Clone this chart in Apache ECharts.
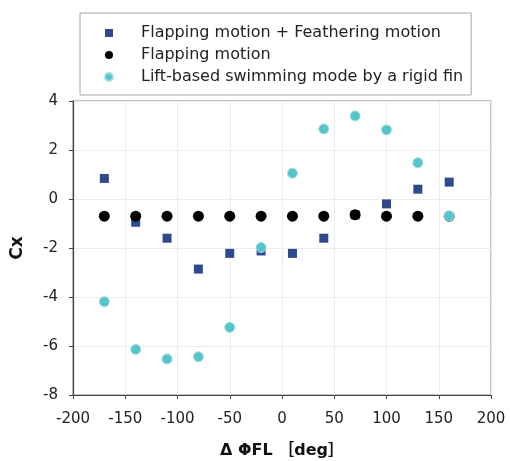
<!DOCTYPE html>
<html>
<head>
<meta charset="utf-8">
<script src="https://cdn.jsdelivr.net/npm/echarts@6/dist/echarts.min.js"></script>
<style>
  html, body { margin: 0; padding: 0; background: #fff; }
  #chart { width: 510px; height: 461px; }
</style>
</head>
<body>
<div id="chart"></div>
<script>
// Phase difference between flapping and feathering (deg)
const deltaPhi = [-170, -140, -110, -80, -50, -20, 10, 40, 70, 100, 130, 160];

// Thrust coefficient Cx for each motion pattern
const cxFlapFeather = [0.84, -0.95, -1.6, -2.86, -2.22, -2.12, -2.22, -1.6, -0.65, -0.2, 0.4, 0.69];
const cxFlap = [-0.7, -0.7, -0.7, -0.7, -0.7, -0.7, -0.7, -0.7, -0.64, -0.7, -0.7, -0.7];
const cxRigid = [-4.19, -6.14, -6.53, -6.44, -5.24, -1.98, 1.05, 2.86, 3.39, 2.82, 1.48, -0.69];

const seriesNames = [
  'Flapping motion + Feathering motion',
  'Flapping motion',
  'Lift-based swimming mode by a rigid fin'
];

const pairs = (xs, ys) => xs.map((x, i) => [x, ys[i]]);

const FONT = 'DejaVu Sans';

const chart = echarts.init(document.getElementById('chart'), null, { renderer: 'canvas' });

chart.setOption({
  backgroundColor: '#fff',
  animation: false,
  grid: {
    left: 73, right: 19, top: 101, bottom: 66,
    outerBoundsMode: 'none',
    containLabel: false,
    show: true, borderColor: '#b0b0b0', borderWidth: 1.5, backgroundColor: '#fff'
  },
  legend: {
    orient: 'vertical',
    left: 80, top: 13,
    padding: [12, 8, 10, 24],
    itemGap: 6,
    itemWidth: 8, itemHeight: 8,
    borderColor: '#a8a8a8', borderWidth: 1,
    backgroundColor: '#fff',
    textStyle: { fontFamily: FONT, fontSize: 16, color: '#222', lineHeight: 16, padding: [0, 0, 0, 23] },
    data: [
      { name: seriesNames[0], icon: 'rect' },
      { name: seriesNames[1], icon: 'circle' },
      { name: seriesNames[2], icon: 'circle' }
    ]
  },
  xAxis: {
    type: 'value',
    min: -200, max: 200, interval: 50,
    name: 'Δ ΦFL ［deg］',
    nameLocation: 'middle',
    nameGap: 48,
    nameTextStyle: { fontFamily: FONT + ', Noto Sans CJK JP', fontSize: 16, fontWeight: 'bold', color: '#111' },
    axisLine: { show: true, onZero: false, lineStyle: { color: '#444', width: 1.2 } },
    axisTick: { show: true, length: 4, lineStyle: { color: '#444' } },
    axisLabel: { fontFamily: FONT, fontSize: 15, color: '#222', margin: 17 },
    splitLine: { show: true, lineStyle: { color: '#ececec', width: 1 } }
  },
  yAxis: {
    type: 'value',
    min: -8, max: 4, interval: 2,
    name: 'Cx',
    nameLocation: 'middle',
    nameGap: 47,
    nameRotate: 90,
    nameTextStyle: { fontFamily: FONT, fontSize: 17, fontWeight: 'bold', color: '#111' },
    axisLine: { show: true, onZero: false, lineStyle: { color: '#444', width: 1.2 } },
    axisTick: { show: true, length: 4, lineStyle: { color: '#444' } },
    axisLabel: { fontFamily: FONT, fontSize: 15, color: '#222', margin: 15 },
    splitLine: { show: true, lineStyle: { color: '#ececec', width: 1 } }
  },
  series: [
    {
      name: seriesNames[0],
      type: 'scatter',
      symbol: 'rect',
      symbolSize: 9,
      itemStyle: { color: '#2f4a8c', opacity: 1 },
      data: pairs(deltaPhi, cxFlapFeather)
    },
    {
      name: seriesNames[1],
      type: 'scatter',
      symbol: 'circle',
      symbolSize: 11,
      itemStyle: { color: '#000', opacity: 1 },
      data: pairs(deltaPhi, cxFlap)
    },
    {
      name: seriesNames[2],
      type: 'scatter',
      symbol: 'circle',
      symbolSize: 10,
      itemStyle: { color: '#56c5cb', borderColor: '#a6dfe2', borderWidth: 1, opacity: 1 },
      data: pairs(deltaPhi, cxRigid)
    }
  ]
});
</script>
</body>
</html>
